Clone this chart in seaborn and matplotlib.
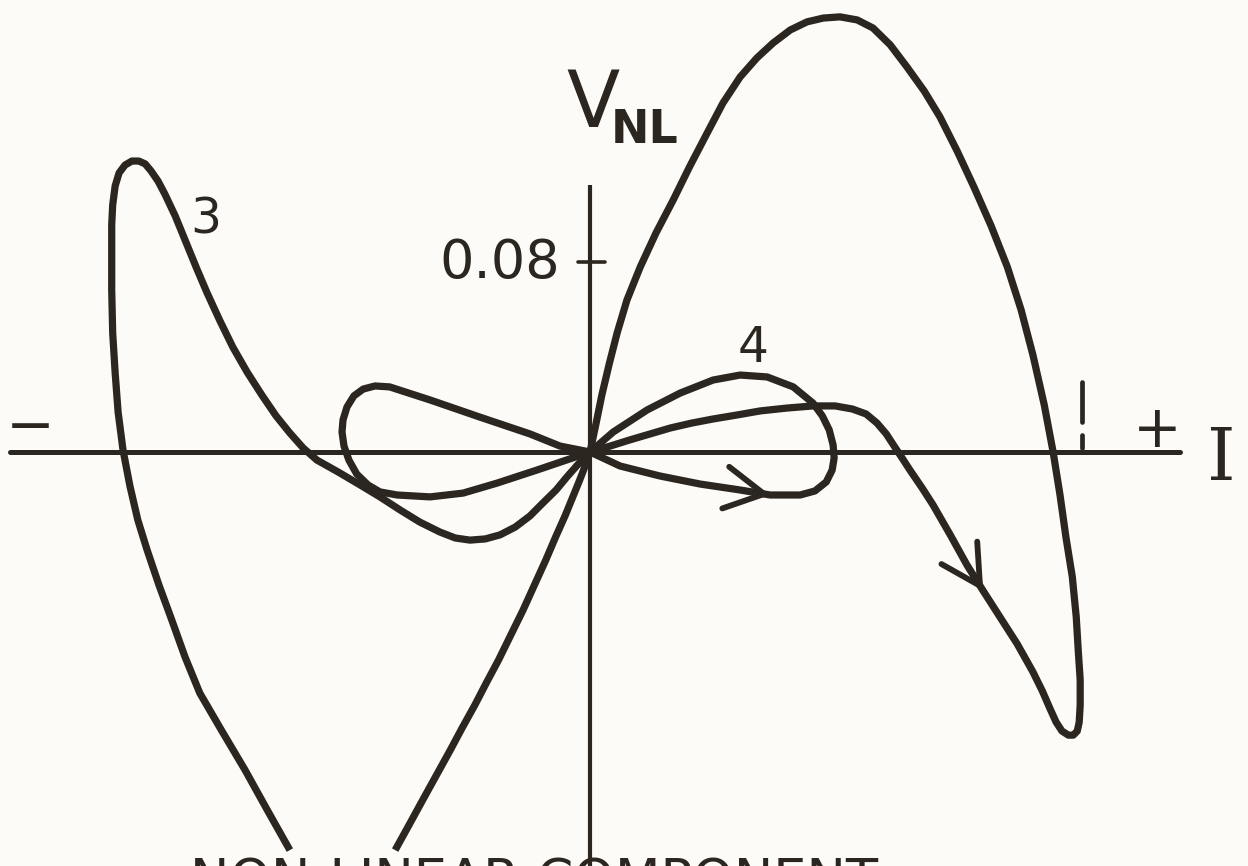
import numpy as np
import pandas as pd
import matplotlib
matplotlib.use("Agg")
import matplotlib.pyplot as plt
import seaborn as sns

# Non-linear component of the voltage V_NL against current I (I in units of the marked tick)
curve3_I = [-0.610, -0.656, -0.701, -0.748, -0.793, -0.823, -0.850, -0.876, -0.900, -0.919,
            -0.935, -0.949, -0.959, -0.965, -0.970, -0.972, -0.972, -0.972, -0.970, -0.965,
            -0.957, -0.945, -0.931, -0.917, -0.904, -0.892, -0.878, -0.864, -0.843, -0.819,
            -0.799, -0.778, -0.752, -0.726, -0.697, -0.667, -0.638, -0.610, -0.583, -0.555,
            -0.512, -0.467, -0.427, -0.386, -0.346, -0.305, -0.274, -0.244, -0.213, -0.183,
            -0.152, -0.122, -0.096, -0.069, -0.047, -0.024, 0.000, 0.041, 0.081, 0.122,
            0.163, 0.207, 0.250, 0.299, 0.346, 0.400, 0.453, 0.498, 0.533, 0.561,
            0.583, 0.602, 0.618, 0.634, 0.650, 0.675, 0.697, 0.732, 0.766, 0.799,
            0.833, 0.868, 0.900, 0.919, 0.935, 0.947, 0.959, 0.972, 0.982, 0.990,
            0.994, 0.996, 0.996, 0.992, 0.988, 0.980, 0.967, 0.955, 0.941, 0.923,
            0.900, 0.876, 0.848, 0.815, 0.780, 0.746, 0.711, 0.679, 0.644, 0.610,
            0.575, 0.543, 0.508, 0.474, 0.441, 0.407, 0.372, 0.339, 0.305, 0.270,
            0.238, 0.203, 0.169, 0.134, 0.102, 0.075, 0.055, 0.039, 0.024, 0.012,
            0.000, -0.010, -0.021, -0.035, -0.050, -0.070, -0.090, -0.113, -0.136, -0.161,
            -0.186, -0.211, -0.234, -0.260, -0.284, -0.312, -0.340, -0.368, -0.396]
curve3_V = [-0.1676, -0.1507, -0.1339, -0.1175, -0.1015, -0.0863, -0.0707, -0.0560, -0.0413, -0.0286,
            -0.0143, 0.0008, 0.0168, 0.0333, 0.0501, 0.0682, 0.0851, 0.0956, 0.1040, 0.1120,
            0.1175, 0.1208, 0.1225, 0.1225, 0.1213, 0.1183, 0.1141, 0.1086, 0.0994, 0.0872,
            0.0771, 0.0669, 0.0552, 0.0442, 0.0337, 0.0240, 0.0152, 0.0080, 0.0017, -0.0034,
            -0.0084, -0.0139, -0.0189, -0.0244, -0.0295, -0.0337, -0.0362, -0.0371, -0.0366, -0.0349,
            -0.0316, -0.0269, -0.0215, -0.0160, -0.0105, -0.0051, 0.0000, 0.0025, 0.0051, 0.0076,
            0.0101, 0.0122, 0.0139, 0.0156, 0.0173, 0.0185, 0.0194, 0.0194, 0.0181, 0.0160,
            0.0122, 0.0076, 0.0025, -0.0025, -0.0076, -0.0152, -0.0223, -0.0349, -0.0476, -0.0585,
            -0.0695, -0.0808, -0.0926, -0.1006, -0.1082, -0.1137, -0.1175, -0.1192, -0.1192, -0.1175,
            -0.1137, -0.1065, -0.0960, -0.0834, -0.0695, -0.0526, -0.0358, -0.0181, 0.0000, 0.0198,
            0.0408, 0.0598, 0.0779, 0.0952, 0.1116, 0.1267, 0.1411, 0.1520, 0.1621, 0.1714,
            0.1785, 0.1819, 0.1832, 0.1827, 0.1811, 0.1777, 0.1722, 0.1659, 0.1579, 0.1469,
            0.1343, 0.1204, 0.1061, 0.0922, 0.0779, 0.0640, 0.0501, 0.0371, 0.0240, 0.0118,
            0.0000, -0.0059, -0.0118, -0.0189, -0.0265, -0.0358, -0.0455, -0.0560, -0.0665, -0.0771,
            -0.0876, -0.0973, -0.1065, -0.1162, -0.1255, -0.1360, -0.1465, -0.1571, -0.1676]

curve4_I = [0.000, 0.061, 0.142, 0.224, 0.305, 0.366, 0.427, 0.457, 0.480, 0.492,
            0.496, 0.494, 0.486, 0.472, 0.453, 0.413, 0.360, 0.305, 0.250, 0.183,
            0.116, 0.047, 0.000, -0.061, -0.122, -0.224, -0.325, -0.407, -0.437, -0.461,
            -0.480, -0.494, -0.502, -0.504, -0.500, -0.490, -0.474, -0.451, -0.427, -0.392,
            -0.325, -0.258, -0.189, -0.108, -0.041, 0.000]
curve4_V = [0.0000, -0.0059, -0.0101, -0.0135, -0.0160, -0.0181, -0.0181, -0.0164, -0.0126, -0.0076,
            -0.0025, 0.0029, 0.0093, 0.0152, 0.0206, 0.0274, 0.0316, 0.0324, 0.0303, 0.0248,
            0.0177, 0.0084, 0.0000, 0.0025, 0.0076, 0.0147, 0.0219, 0.0274, 0.0278, 0.0265,
            0.0236, 0.0189, 0.0135, 0.0084, 0.0025, -0.0034, -0.0093, -0.0139, -0.0168, -0.0181,
            -0.0189, -0.0173, -0.0131, -0.0076, -0.0029, 0.0000]

curve_names = ["3", "4"]
v_tick_value = 0.08
v_tick_label = "0.08"
i_tick_value = 1.0
caption = "NON-LINEAR COMPONENT"

ink = "#2b2620"
paper = "#fcfbf7"

sns.set_theme(style="white")
plt.rcParams["font.family"] = ["DejaVu Sans"]

df = pd.concat([
    pd.DataFrame({"I": curve3_I, "V": curve3_V, "curve": curve_names[0]}),
    pd.DataFrame({"I": curve4_I, "V": curve4_V, "curve": curve_names[1]}),
], ignore_index=True)

fig = plt.figure(figsize=(12.48, 8.66), dpi=100, facecolor=paper)
ax = fig.add_axes([0, 0, 1, 1])
ax.set_facecolor(paper)
ax.set_xlim(-1.199, 1.337)
ax.set_ylim(-0.1743, 0.1903)
ax.set_axis_off()

# coordinate axes
ax.plot([-1.179, 1.199], [0, 0], color=ink, lw=3.6, solid_capstyle="round", zorder=2)
ax.plot([0, 0], [-0.19, 0.1124], color=ink, lw=3.0, solid_capstyle="butt", zorder=2)
ax.plot([-0.024, 0.030], [v_tick_value, v_tick_value], color=ink, lw=2.6, zorder=2)
# broken tick on the current axis
ax.plot([i_tick_value, i_tick_value], [0.0126, 0.0295], color=ink, lw=3.4, zorder=2)
ax.plot([i_tick_value, i_tick_value], [0.0017, 0.0072], color=ink, lw=3.4, zorder=2)

sns.lineplot(data=df, x="I", y="V", hue="curve", sort=False, estimator=None,
             palette={n: ink for n in curve_names}, legend=False, lw=5.2, ax=ax, zorder=3)
for line in ax.get_lines()[-2:]:
    line.set_solid_joinstyle("round")
    line.set_solid_capstyle("butt")


def chevron(xs, ys, k):
    ax.annotate("", xy=(xs[k], ys[k]), xytext=(xs[k - 1], ys[k - 1]),
                arrowprops=dict(arrowstyle="->,head_length=0.7,head_width=0.38",
                                color=ink, lw=4.2, mutation_scale=40,
                                shrinkA=0, shrinkB=0), zorder=4)


chevron(curve4_I, curve4_V, 5)
chevron(curve3_I, curve3_V, 79)

# labels
ax.text(0.006, 0.1369, "V", fontsize=56, color=ink, ha="center", va="baseline")
ax.text(0.043, 0.1301, "NL", fontsize=33, fontweight="bold", color=ink, ha="left", va="baseline")
ax.text(-0.061, 0.0733, v_tick_label, fontsize=39, color=ink, ha="right", va="baseline")
ax.text(-0.813, 0.0922, curve_names[0], fontsize=35, color=ink, ha="left", va="baseline")
ax.text(0.299, 0.0379, curve_names[1], fontsize=35, color=ink, ha="left", va="baseline")
ax.text(-1.138, 0.0034, "\u2212", fontsize=42, color=ink, ha="center", va="baseline")
ax.text(1.152, 0.0021, "+", fontsize=42, color=ink, ha="center", va="baseline")
ax.text(1.283, -0.0118, "I", fontsize=52, color=ink, ha="center", va="baseline",
        family=["DejaVu Serif"])
ax.text(-0.813, -0.1700, caption, fontsize=38, color=ink, ha="left", va="top")

fig.savefig("out.png", dpi=100, facecolor=paper)
